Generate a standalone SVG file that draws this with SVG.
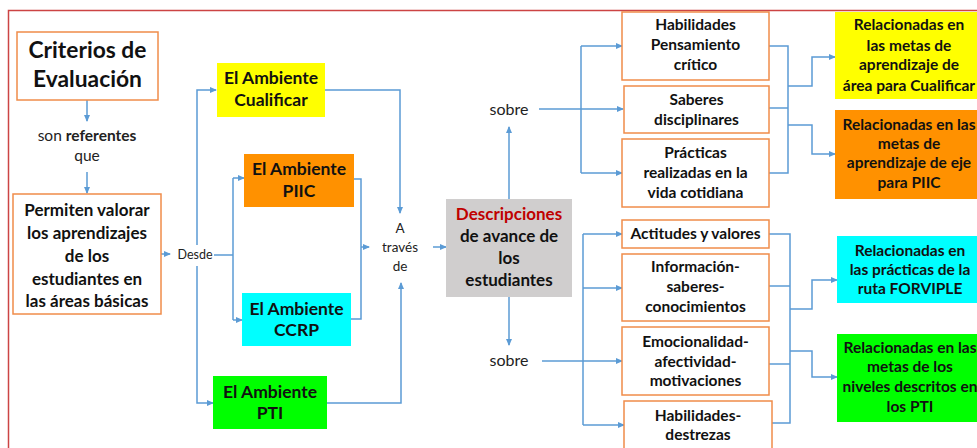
<svg xmlns="http://www.w3.org/2000/svg" width="977" height="448" viewBox="0 0 977 448">
<defs>
<marker id="ah" markerWidth="7" markerHeight="6" refX="6" refY="3" orient="auto" markerUnits="userSpaceOnUse">
<path d="M0,0 L7,3 L0,6 Z" fill="#5b9bd5"/>
</marker>
<style>
.b{fill:#fff;stroke:#f08c4a;stroke-width:1.5}
.t{font-family:Lato,"Liberation Sans",sans-serif;font-weight:bold;fill:#111;text-anchor:middle}
.n{font-family:Lato,"Liberation Sans",sans-serif;fill:#222;text-anchor:middle}
.c{fill:none;stroke:#5b9bd5;stroke-width:1.5}
.a{marker-end:url(#ah)}
</style>
</defs>
<rect x="0" y="0" width="977" height="448" fill="#fff"/>
<rect x="8.5" y="10.5" width="1000" height="500" fill="none" stroke="#cc4444" stroke-width="1.5"/>

<g id="connectors">
<path class="c a" d="M87,100 V121"/>
<path class="c a" d="M87,172 V193"/>
<path class="c a" d="M161,254 H170"/>
<path class="c a" d="M197,245 V90 H216"/>
<path class="c a" d="M197,266 V403 H213"/>
<path class="c" d="M214,255 H233"/>
<path class="c" d="M233,178 V320"/>
<path class="c a" d="M233,178 H244"/>
<path class="c a" d="M233,320 H242"/>
<path class="c a" d="M325,90 H400 V213"/>
<path class="c" d="M354,179 H361 V319 H351"/>
<path class="c a" d="M361,247 H369"/>
<path class="c a" d="M327,403 H401 V283"/>
<path class="c a" d="M433,247 H446"/>
<path class="c a" d="M509,199 V127"/>
<path class="c a" d="M509,297 V345"/>
<path class="c a" d="M539,109 H623"/>
<path class="c" d="M581,46 V173"/>
<path class="c a" d="M581,46 H622"/>
<path class="c a" d="M581,173 H622"/>
<path class="c" d="M769,46 H788 V173 H769"/>
<path class="c" d="M769,108 H788"/>
<path class="c a" d="M788,86 H812 V57 H835"/>
<path class="c a" d="M788,125 H812 V154 H835"/>
<path class="c a" d="M542,361 H622"/>
<path class="c" d="M583,234 V425"/>
<path class="c a" d="M583,234 H622"/>
<path class="c a" d="M583,288 H622"/>
<path class="c a" d="M583,425 H624"/>
<path class="c" d="M769,234 H790 V423 H772"/>
<path class="c" d="M769,286 H790"/>
<path class="c" d="M769,364 H790"/>
<path class="c a" d="M790,309 H812 V280 H837"/>
<path class="c a" d="M790,351 H812 V377 H837"/>
</g>

<g id="criterios">
<rect class="b" x="17" y="32" width="141" height="68"/>
<text class="t" x="87.5" y="58" font-size="22.8">Criterios de</text>
<text class="t" x="87.5" y="87" font-size="22.8">Evaluación</text>
</g>

<g id="label-referentes">
<text class="n" x="87" y="141" font-size="15.5">son <tspan font-weight="bold">referentes</tspan></text>
<text class="n" x="87" y="161" font-size="15.5">que</text>
</g>

<g id="permiten">
<rect class="b" x="13" y="194" width="148" height="120"/>
<text class="t" x="87" y="216" font-size="17">Permiten valorar</text>
<text class="t" x="87" y="239" font-size="17">los aprendizajes</text>
<text class="t" x="87" y="262" font-size="17">de los</text>
<text class="t" x="87" y="285" font-size="17">estudiantes en</text>
<text class="t" x="87" y="307" font-size="17">las áreas básicas</text>
</g>

<g id="label-desde">
<text class="n" x="195" y="259" font-size="12.5">Desde</text>
</g>

<g id="cualificar">
<rect x="217" y="63" width="108" height="54" fill="#ffff00"/>
<text class="t" x="271" y="84" font-size="17.5">El Ambiente</text>
<text class="t" x="271" y="106" font-size="17.5">Cualificar</text>
</g>

<g id="piic">
<rect x="244" y="154" width="110" height="53" fill="#ff9100"/>
<text class="t" x="299" y="175" font-size="17.5">El Ambiente</text>
<text class="t" x="299" y="197" font-size="17.5">PIIC</text>
</g>

<g id="ccrp">
<rect x="242" y="293" width="109" height="53" fill="#00ffff"/>
<text class="t" x="296.5" y="315" font-size="17.5">El Ambiente</text>
<text class="t" x="296.5" y="336" font-size="17.5">CCRP</text>
</g>

<g id="pti">
<rect x="213" y="376" width="114" height="53" fill="#00ff00"/>
<text class="t" x="270" y="398" font-size="17.5">El Ambiente</text>
<text class="t" x="270" y="419" font-size="17.5">PTI</text>
</g>

<g id="label-atraves">
<text class="n" x="400" y="233" font-size="13.5">A</text>
<text class="n" x="400" y="252" font-size="13.5">través</text>
<text class="n" x="400" y="271" font-size="13.5">de</text>
</g>

<g id="descripciones">
<rect x="446" y="199" width="126" height="98" fill="#d0cece"/>
<text class="t" x="509" y="220" font-size="17" style="fill:#c00000">Descripciones</text>
<text class="t" x="509" y="242" font-size="17">de avance de</text>
<text class="t" x="509" y="264" font-size="17">los</text>
<text class="t" x="509" y="286" font-size="17">estudiantes</text>
</g>

<g id="label-sobre-top">
<text class="n" x="509" y="115" font-size="16">sobre</text>
</g>
<g id="label-sobre-bottom">
<text class="n" x="509" y="366" font-size="16">sobre</text>
</g>

<g id="habilidades-pc">
<rect class="b" x="622" y="12" width="147" height="68"/>
<text class="t" x="695.5" y="30" font-size="15.5">Habilidades</text>
<text class="t" x="695.5" y="50" font-size="15.5">Pensamiento</text>
<text class="t" x="695.5" y="70" font-size="15.5">crítico</text>
</g>

<g id="saberes">
<rect class="b" x="624" y="86" width="145" height="47"/>
<text class="t" x="696.5" y="105" font-size="15.5">Saberes</text>
<text class="t" x="696.5" y="125" font-size="15.5">disciplinares</text>
</g>

<g id="practicas">
<rect class="b" x="622" y="139" width="147" height="68"/>
<text class="t" x="695.5" y="158" font-size="15.5">Prácticas</text>
<text class="t" x="695.5" y="178" font-size="15.5">realizadas en la</text>
<text class="t" x="695.5" y="198" font-size="15.5">vida cotidiana</text>
</g>

<g id="actitudes">
<rect class="b" x="622" y="220" width="147" height="28"/>
<text class="t" x="695.5" y="239" font-size="15.5">Actitudes y valores</text>
</g>

<g id="informacion">
<rect class="b" x="622" y="254" width="147" height="67"/>
<text class="t" x="695.5" y="272" font-size="15.5">Información-</text>
<text class="t" x="695.5" y="292" font-size="15.5">saberes-</text>
<text class="t" x="695.5" y="312" font-size="15.5">conocimientos</text>
</g>

<g id="emocionalidad">
<rect class="b" x="622" y="327" width="147" height="68"/>
<text class="t" x="695.5" y="347" font-size="15.5">Emocionalidad-</text>
<text class="t" x="695.5" y="367" font-size="15.5">afectividad-</text>
<text class="t" x="695.5" y="386" font-size="15.5">motivaciones</text>
</g>

<g id="habilidades-destrezas">
<rect class="b" x="624" y="401" width="148" height="60"/>
<text class="t" x="698" y="421" font-size="15.5">Habilidades-</text>
<text class="t" x="698" y="440" font-size="15.5">destrezas</text>
</g>

<g id="metas-cualificar">
<rect x="835" y="12" width="150" height="87" fill="#ffff00"/>
<text class="t" x="909" y="30" font-size="15.5">Relacionadas en</text>
<text class="t" x="909" y="51" font-size="15.5">las metas de</text>
<text class="t" x="909" y="70" font-size="15.5">aprendizaje de</text>
<text class="t" x="909" y="91" font-size="15.5">área para Cualificar</text>
</g>

<g id="metas-piic">
<rect x="835" y="110" width="150" height="89" fill="#ff9100"/>
<text class="t" x="909" y="130" font-size="15.5">Relacionadas en las</text>
<text class="t" x="909" y="149" font-size="15.5">metas de</text>
<text class="t" x="909" y="168" font-size="15.5">aprendizaje de eje</text>
<text class="t" x="909" y="188" font-size="15.5">para PIIC</text>
</g>

<g id="practicas-forviple">
<rect x="837" y="236" width="150" height="67" fill="#00ffff"/>
<text class="t" x="910" y="256" font-size="15.5">Relacionadas en</text>
<text class="t" x="910" y="275" font-size="15.5">las prácticas de la</text>
<text class="t" x="910" y="294" font-size="15.5">ruta FORVIPLE</text>
</g>

<g id="metas-pti">
<rect x="837" y="334" width="150" height="88" fill="#00ff00"/>
<text class="t" x="910" y="353" font-size="15.5">Relacionadas en las</text>
<text class="t" x="910" y="372" font-size="15.5">metas de los</text>
<text class="t" x="910" y="392" font-size="15.5">niveles descritos en</text>
<text class="t" x="910" y="412" font-size="15.5">los PTI</text>
</g>
</svg>
